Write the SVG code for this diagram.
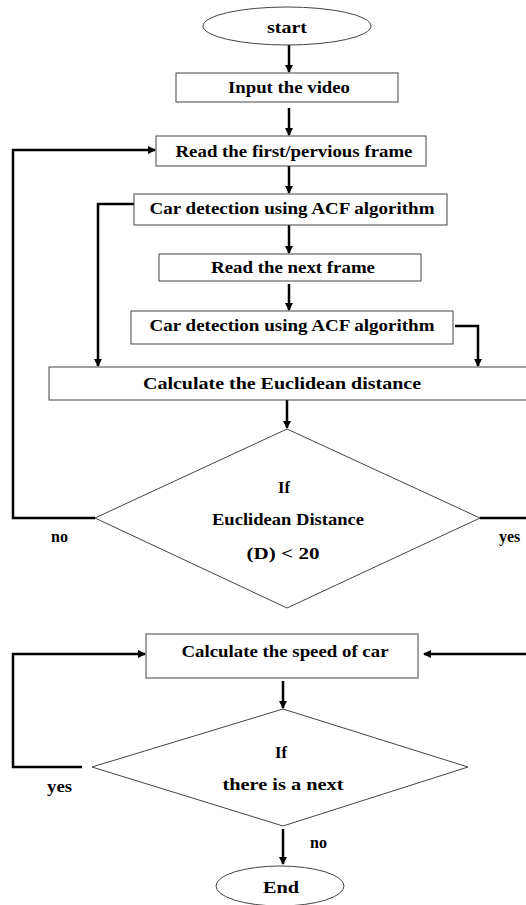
<svg xmlns="http://www.w3.org/2000/svg" width="526" height="905" viewBox="0 0 526 905">
<defs>
<marker id="ah" markerWidth="8" markerHeight="8" refX="7" refY="4" orient="auto" markerUnits="userSpaceOnUse">
<path d="M0,0 L8,4 L0,8 Z" fill="#000"/>
</marker>
<style>
.n{fill:#fff;stroke:#444;stroke-width:1}
.t{font-family:"Liberation Serif","Times New Roman",serif;font-weight:bold;font-size:16.5px;fill:#000;text-anchor:middle}
.l{font-family:"Liberation Serif","Times New Roman",serif;font-weight:bold;font-size:16px;fill:#000}
.c{fill:none;stroke:#000;stroke-width:2.5}
</style>
</defs>
<rect width="526" height="905" fill="#fff"/>
<g id="connectors">
<path class="c" d="M289,45 V72" marker-end="url(#ah)"/>
<path class="c" d="M289,108 V135" marker-end="url(#ah)"/>
<path class="c" d="M289,166 V193" marker-end="url(#ah)"/>
<path class="c" d="M289,225 V253" marker-end="url(#ah)"/>
<path class="c" d="M289,284 V310" marker-end="url(#ah)"/>
<path class="c" d="M134,204 H98 V366" marker-end="url(#ah)"/>
<path class="c" d="M455,326 H478 V366" marker-end="url(#ah)"/>
<path class="c" d="M287,400 V428" marker-end="url(#ah)"/>
<path class="c" d="M95,518 H13 V150 H155" marker-end="url(#ah)"/>
<path class="c" d="M480,518 H526"/>
<path class="c" d="M526,654 H424" marker-end="url(#ah)"/>
<path class="c" d="M283,681 V708" marker-end="url(#ah)"/>
<path class="c" d="M82,767 H13 V654 H145" marker-end="url(#ah)"/>
<path class="c" d="M283,829 V864" marker-end="url(#ah)"/>
</g>
<g id="start"><ellipse class="n" cx="287" cy="26" rx="84" ry="19"/><text class="t" x="287" y="33" textLength="40" lengthAdjust="spacingAndGlyphs">start</text></g>
<g id="input"><rect class="n" x="176" y="73" width="222" height="29"/><text class="t" x="289" y="93" textLength="122" lengthAdjust="spacingAndGlyphs">Input the video</text></g>
<g id="readfirst"><rect class="n" x="156" y="136" width="270" height="30"/><text class="t" x="294" y="157" textLength="237" lengthAdjust="spacingAndGlyphs">Read the first/pervious frame</text></g>
<g id="detect1"><rect class="n" x="134" y="194" width="313" height="31"/><text class="t" x="292" y="214" textLength="285" lengthAdjust="spacingAndGlyphs">Car detection using ACF algorithm</text></g>
<g id="readnext"><rect class="n" x="159" y="254" width="262" height="27"/><text class="t" x="293" y="273" textLength="164" lengthAdjust="spacingAndGlyphs">Read the next frame</text></g>
<g id="detect2"><rect class="n" x="131" y="311" width="322" height="33"/><text class="t" x="292" y="331" textLength="285" lengthAdjust="spacingAndGlyphs">Car detection using ACF algorithm</text></g>
<g id="euclid"><rect class="n" x="49" y="367" width="490" height="33"/><text class="t" x="282" y="389" textLength="278" lengthAdjust="spacingAndGlyphs">Calculate the Euclidean distance</text></g>
<g id="decision1"><polygon class="n" points="287,429 480,518 287,608 95,518"/>
<text class="t" x="284" y="493">If</text><text class="t" x="288" y="525" textLength="152" lengthAdjust="spacingAndGlyphs">Euclidean Distance</text><text class="t" x="283" y="559" textLength="73" lengthAdjust="spacingAndGlyphs">(D) &lt; 20</text></g>
<g id="speed"><rect class="n" x="146" y="634" width="272" height="44"/><text class="t" x="285" y="657" textLength="207" lengthAdjust="spacingAndGlyphs">Calculate the speed of car</text></g>
<g id="decision2"><polygon class="n" points="283,709 468,767 283,826 92,767"/>
<text class="t" x="281" y="758">If</text><text class="t" x="283" y="790" textLength="121" lengthAdjust="spacingAndGlyphs">there is a next</text></g>
<g id="end"><ellipse class="n" cx="280" cy="886" rx="64" ry="20"/><text class="t" x="281" y="893" textLength="36" lengthAdjust="spacingAndGlyphs">End</text></g>
<g id="labels">
<text class="l" x="51" y="542">no</text>
<text class="l" x="499" y="542">yes</text>
<text class="l" x="47" y="792" textLength="25" lengthAdjust="spacingAndGlyphs">yes</text>
<text class="l" x="310" y="848">no</text>
</g>
</svg>
